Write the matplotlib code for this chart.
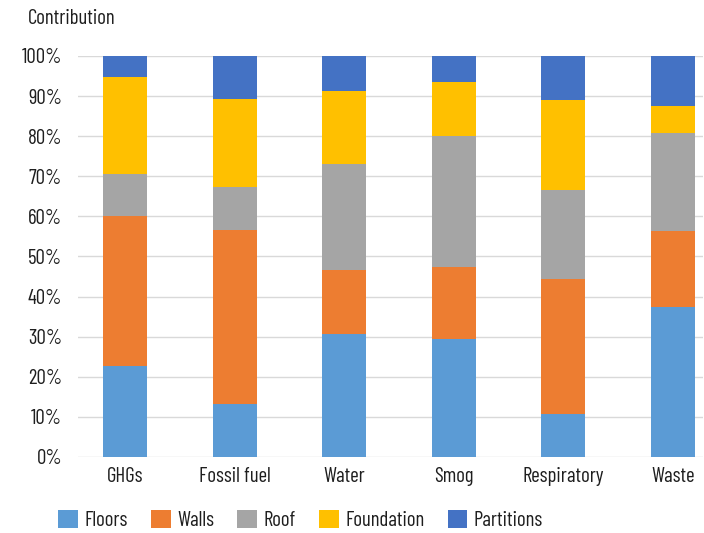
import numpy as np
import matplotlib
matplotlib.use("Agg")
import matplotlib.pyplot as plt
from matplotlib.patches import Patch

plt.rcParams['font.family'] = ['Barlow Condensed', 'DejaVu Sans']

# ── Data (percent contribution) ───────────────────────────────────────────────
categories = ["GHGs", "Fossil fuel", "Water", "Smog", "Respiratory", "Waste"]
floors      = [22.7, 13.2, 30.7, 29.4, 10.7, 37.3]
walls       = [37.4, 43.4, 15.9, 18.1, 33.6, 19.0]
roof        = [10.5, 10.7, 26.5, 32.5, 22.3, 24.6]
foundation  = [24.1, 21.9, 18.2, 13.5, 22.3,  6.5]
partitions  = [ 5.3, 10.8,  8.7,  6.5, 11.1, 12.6]

series = [("Floors", floors, "#5B9BD5"),
          ("Walls", walls, "#ED7D31"),
          ("Roof", roof, "#A5A5A5"),
          ("Foundation", foundation, "#FFC000"),
          ("Partitions", partitions, "#4472C4")]

TEXT = "#1E1E1E"
FS = 15

# ── Plot ──────────────────────────────────────────────────────────────────────
fig = plt.figure(figsize=(7.04, 5.33), dpi=100)
ax = fig.add_axes([0.111, 0.1426, 0.888, 0.7524])

x = np.arange(len(categories))
bottom = np.zeros(len(categories))
for name, vals, color in series:
    ax.bar(x, vals, bottom=bottom, width=0.4, color=color, zorder=2)
    bottom += np.array(vals)

ax.set_xlim(-0.43, 5.28)
ax.set_ylim(0, 100)
ax.set_yticks(np.arange(0, 101, 10))
ax.set_yticklabels([f"{v}%" for v in range(0, 101, 10)])
ax.set_xticks(x)
ax.set_xticklabels(categories)
ax.tick_params(axis="both", length=0, labelsize=FS, colors=TEXT)
ax.tick_params(axis="y", pad=11.5)
ax.tick_params(axis="x", pad=7)
ax.grid(axis="y", color="#D9D9D9", linewidth=1, zorder=0)
for sp in ax.spines.values():
    sp.set_visible(False)

fig.text(28 / 704, 1 - 19 / 533, "Contribution", fontsize=FS,
         color=TEXT, ha="left", va="center")

handles = [Patch(facecolor=c, label=n) for n, _, c in series]
leg = fig.legend(handles=handles, loc="center", bbox_to_anchor=(0.427, 1 - 520 / 533),
                 ncol=5, frameon=False, fontsize=FS, handlelength=0.95, handleheight=0.95,
                 columnspacing=1.1, handletextpad=0.32)
for t in leg.get_texts():
    t.set_color(TEXT)

fig.savefig("out.png", dpi=100)
